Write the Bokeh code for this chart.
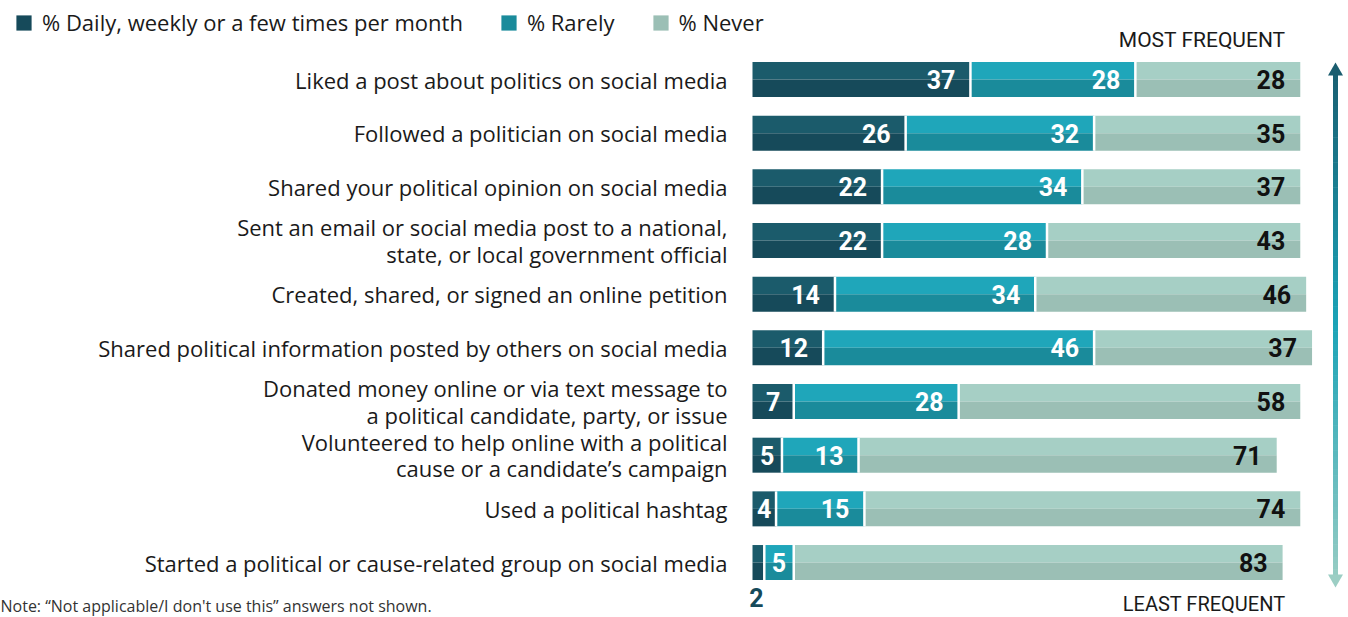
from bokeh.plotting import figure
from bokeh.models import Range1d, Label, Legend, LegendItem, ColumnDataSource
from bokeh.core.properties import value
from bokeh.embed import file_html
from bokeh.resources import INLINE

# ---------------- data ----------------
categories = [
    "Liked a post about politics on social media",
    "Followed a politician on social media",
    "Shared your political opinion on social media",
    "Sent an email or social media post to a national,\nstate, or local government official",
    "Created, shared, or signed an online petition",
    "Shared political information posted by others on social media",
    "Donated money online or via text message to\na political candidate, party, or issue",
    "Volunteered to help online with a political\ncause or a candidate\u2019s campaign",
    "Used a political hashtag",
    "Started a political or cause-related group on social media",
]
frequent = [37, 26, 22, 22, 14, 12, 7, 5, 4, 2]
rarely = [28, 32, 34, 28, 34, 46, 28, 13, 15, 5]
never = [28, 35, 37, 43, 46, 37, 58, 71, 74, 83]
series_names = ["% Daily, weekly or a few times per month", "% Rarely", "% Never"]
top_label = "MOST FREQUENT"
bottom_label = "LEAST FREQUENT"
note = "Note: \u201cNot applicable/I don't use this\u201d answers not shown."

# ---------------- styles ----------------
W, H = 1348, 617
PX_PER_UNIT = 5.89
X0 = 752.0          # screen x of value 0
ROW0 = 79.0         # screen y of first row centre
ROW_STEP = 53.67
BAR_H_PX = 35.0

top_cols = ["#1b5b6b", "#1fa6ba", "#a6cfc5"]
bot_cols = ["#164a5a", "#1a8b9b", "#9bbfb5"]
text_cols = ["#ffffff", "#ffffff", "#111111"]

LABEL_FONT = "Open Sans"
NUM_FONT = "Roboto"

x_start = -X0 / PX_PER_UNIT
x_end = (W - X0) / PX_PER_UNIT
y_top = -ROW0 / ROW_STEP
y_bot = (H - ROW0) / ROW_STEP


def sx(px):
    return (px - X0) / PX_PER_UNIT


def sy(py):
    return (py - ROW0) / ROW_STEP


p = figure(width=W, height=H, output_backend="svg", toolbar_location=None,
           x_range=Range1d(x_start, x_end), y_range=Range1d(y_bot, y_top),
           min_border=0, min_border_left=0, min_border_right=0,
           min_border_top=0, min_border_bottom=0)
p.axis.visible = False
p.grid.visible = False
p.outline_line_color = None
p.background_fill_color = "white"
p.border_fill_color = "white"

n = len(categories)
rows = list(range(n))
half = BAR_H_PX / ROW_STEP / 2.0

series = [frequent, rarely, never]
lefts = [[0] * n, frequent[:], [f + r for f, r in zip(frequent, rarely)]]
rights = [frequent[:], [f + r for f, r in zip(frequent, rarely)],
          [f + r + v for f, r, v in zip(frequent, rarely, never)]]

legend_items = []
for k in range(3):
    src_top = ColumnDataSource(dict(y=[i - half / 2 for i in rows], left=lefts[k], right=rights[k]))
    src_bot = ColumnDataSource(dict(y=[i + half / 2 for i in rows], left=lefts[k], right=rights[k]))
    rt = p.hbar(y="y", left="left", right="right", height=half, source=src_top,
                fill_color=top_cols[k], line_color=None)
    rb = p.hbar(y="y", left="left", right="right", height=half, source=src_bot,
                fill_color=bot_cols[k], line_color=None)
    legend_items.append(LegendItem(label=series_names[k], renderers=[rb]))

# white separators between segments
sep_x, sep_y0, sep_y1 = [], [], []
for i in rows:
    for b in (rights[0][i], rights[1][i]):
        sep_x.append(b)
        sep_y0.append(i - half)
        sep_y1.append(i + half)
p.segment(x0=sep_x, x1=sep_x, y0=sep_y0, y1=sep_y1, line_color="white", line_width=2.5)

# value labels
NUM_SIZE = "25px"
for k in range(3):
    xs_r, ys_r, ts_r = [], [], []
    xs_c, ys_c, ts_c = [], [], []
    xs_o, ys_o, ts_o = [], [], []
    for i in rows:
        v = series[k][i]
        if v >= 10:
            xs_r.append(rights[k][i]); ys_r.append(i); ts_r.append(str(v))
        elif v >= 3:
            xs_c.append((lefts[k][i] + rights[k][i]) / 2); ys_c.append(i); ts_c.append(str(v))
        else:
            xs_o.append((lefts[k][i] + rights[k][i]) / 2); ys_o.append(i + 35.0 / ROW_STEP); ts_o.append(str(v))
    p.text(x=xs_r, y=ys_r, text=ts_r, x_offset=-15, text_align="right", text_baseline="middle",
           text_font=value(NUM_FONT), text_font_style="bold", text_font_size=NUM_SIZE, text_color=text_cols[k])
    p.text(x=xs_c, y=ys_c, text=ts_c, text_align="center", text_baseline="middle",
           text_font=value(NUM_FONT), text_font_style="bold", text_font_size=NUM_SIZE, text_color=text_cols[k])
    p.text(x=xs_o, y=ys_o, text=ts_o, x_offset=-2, text_align="center", text_baseline="middle",
           text_font=value(NUM_FONT), text_font_style="bold", text_font_size=NUM_SIZE, text_color=bot_cols[0])

# category labels
p.text(x=[0] * n, y=rows, text=categories, x_offset=-25, text_align="right", text_baseline="middle",
       text_font=value(LABEL_FONT), text_font_size="22px", text_color="#1a1a1a", text_line_height=0.885)

# gradient arrow on the right
AX = 1335.0
a_top, a_bot = 62.0, 587.0
head = 13.0
c_stops = [(0.0, (0x1a, 0x5d, 0x6f)), (0.5, (0x1b, 0xa3, 0xb7)), (1.0, (0x9c, 0xce, 0xc4))]


def grad(t):
    t = min(max(t, 0.0), 1.0)
    for (t0, c0), (t1, c1) in zip(c_stops[:-1], c_stops[1:]):
        if t <= t1:
            u = (t - t0) / (t1 - t0)
            return "#%02x%02x%02x" % tuple(int(round(a + (b - a) * u)) for a, b in zip(c0, c1))
    return "#%02x%02x%02x" % c_stops[-1][1]


steps = 80
s0 = a_top + head - 1
s1 = a_bot - head + 1
gx0, gy0, gy1, gc = [], [], [], []
for j in range(steps):
    ya = s0 + (s1 - s0) * j / steps
    yb = s0 + (s1 - s0) * (j + 1) / steps + 0.6
    gx0.append(sx(AX)); gy0.append(sy(ya)); gy1.append(sy(yb))
    gc.append(grad(((ya + yb) / 2 - a_top) / (a_bot - a_top)))
p.segment(x0=gx0, x1=gx0, y0=gy0, y1=gy1, line_color=gc, line_width=5)
p.patch(x=[sx(AX - 7.5), sx(AX), sx(AX + 7.5)], y=[sy(a_top + head), sy(a_top), sy(a_top + head)],
        fill_color=grad(0.0), line_color=None)
p.patch(x=[sx(AX - 7.5), sx(AX), sx(AX + 7.5)], y=[sy(a_bot - head), sy(a_bot), sy(a_bot - head)],
        fill_color=grad(1.0), line_color=None)

# corner labels
p.add_layout(Label(x=1285, y=H - 39, x_units="screen", y_units="screen", text=top_label,
                   text_align="right", text_baseline="middle", text_font="Roboto",
                   text_font_size="21px", text_color="#1a1a1a"))
p.add_layout(Label(x=1285, y=H - 603, x_units="screen", y_units="screen", text=bottom_label,
                   text_align="right", text_baseline="middle", text_font="Roboto",
                   text_font_size="20px", text_color="#1a1a1a"))
p.add_layout(Label(x=0, y=1, x_units="screen", y_units="screen", text=note,
                   text_align="left", text_baseline="bottom", text_font=LABEL_FONT,
                   text_font_size="16px", text_color="#333333"))

legend = Legend(items=legend_items, orientation="horizontal", location=(14, H - 17 - 20),
                glyph_width=19, glyph_height=19, label_standoff=9, spacing=36,
                padding=0, margin=0, border_line_alpha=0, background_fill_alpha=0,
                label_text_font=LABEL_FONT, label_text_font_size="22px",
                label_text_color="#1a1a1a", label_height=20)
p.add_layout(legend)

open("out.html", "w").write(file_html(p, INLINE))
